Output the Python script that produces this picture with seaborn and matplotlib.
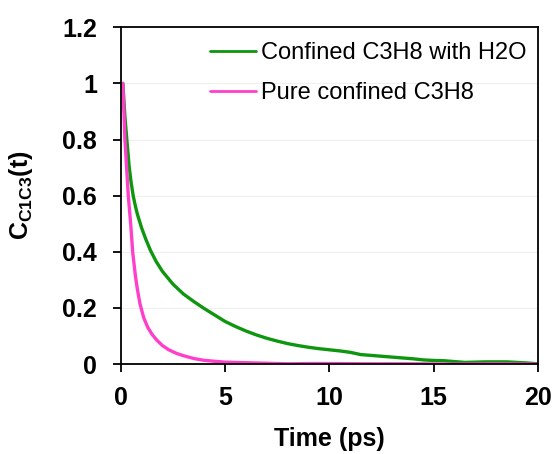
import matplotlib
matplotlib.use("Agg")
import matplotlib.pyplot as plt
import seaborn as sns
import pandas as pd

# ---- data ----
t_water = [0.1, 0.2, 0.29, 0.4, 0.5, 0.6, 0.7, 0.8, 1.0, 1.2, 1.43, 1.7, 2.0, 2.5, 3.0,
           3.5, 4.0, 4.5, 5.0, 5.5, 6.0, 6.5, 7.0, 7.5, 8.0, 8.5, 9.0, 9.5, 10.0,
           10.5, 11.0, 11.5, 12.0, 12.5, 13.0, 13.5, 14.0, 14.5, 15.0, 15.5, 16.0,
           16.5, 17.0, 17.5, 18.0, 18.5, 19.0, 19.5, 20.0]
c_water = [1.0, 0.88, 0.8, 0.705, 0.645, 0.598, 0.563, 0.533, 0.485, 0.445, 0.404, 0.365, 0.33,
           0.285, 0.25, 0.223, 0.198, 0.175, 0.152, 0.134, 0.118, 0.104, 0.092, 0.082, 0.073,
           0.066, 0.06, 0.055, 0.051, 0.047, 0.042, 0.034, 0.031, 0.028, 0.025, 0.022, 0.019,
           0.015, 0.013, 0.012, 0.009, 0.006, 0.007, 0.008, 0.008, 0.008, 0.006, 0.004, 0.001]

t_pure = [0.1, 0.15, 0.2, 0.28, 0.36, 0.48, 0.57, 0.7, 0.8, 0.92, 1.1, 1.3, 1.5, 1.72, 2.0,
          2.3, 2.68, 3.0, 3.5, 3.95, 4.5, 5.0, 6.0, 7.0, 8.0, 9.0, 10.0, 12.0, 14.0, 16.0, 18.0, 20.0]
c_pure = [1.0, 0.9, 0.8, 0.7, 0.6, 0.495, 0.4, 0.315, 0.265, 0.215, 0.165, 0.13, 0.106, 0.086,
          0.066, 0.051, 0.038, 0.03, 0.02, 0.014, 0.01, 0.007, 0.005, 0.003, 0.001, 0.002, 0.002,
          0.001, 0.001, 0.0, 0.001, 0.0]

series_names = ["Confined C3H8 with H2O", "Pure confined C3H8"]
series_colors = ["#0f960f", "#ff3fcc"]

x_ticks = [0, 5, 10, 15, 20]
y_ticks = [0, 0.2, 0.4, 0.6, 0.8, 1.0, 1.2]
y_tick_labels = ["0", "0.2", "0.4", "0.6", "0.8", "1", "1.2"]

df = pd.concat([
    pd.DataFrame({"t": t_water, "c": c_water, "series": series_names[0]}),
    pd.DataFrame({"t": t_pure, "c": c_pure, "series": series_names[1]}),
], ignore_index=True)

sns.set_style("white", {"xtick.bottom": True, "ytick.left": True,
                        "text.color": "black", "axes.labelcolor": "black",
                        "xtick.color": "black", "ytick.color": "black"})
plt.rcParams["font.family"] = ["Liberation Sans", "DejaVu Sans"]

fig = plt.figure(figsize=(5.54, 4.54), dpi=100)
ax = fig.add_axes([0.218, 0.198, 0.753, 0.742])

sns.lineplot(data=df, x="t", y="c", hue="series", hue_order=series_names,
             palette=series_colors, linewidth=2.4, ax=ax, sort=False, estimator=None)

ax.set_xlim(0, 20)
ax.set_ylim(0, 1.2)
ax.set_xticks(x_ticks)
ax.set_xticklabels([str(v) for v in x_ticks], fontsize=18, fontweight="bold", color="black")
ax.set_yticks(y_ticks)
ax.set_yticklabels(y_tick_labels, fontsize=18, fontweight="bold", color="black")
ax.tick_params(axis="y", left=True, direction="out", length=6, width=1.3, color="black", pad=11)
ax.tick_params(axis="x", bottom=True, direction="out", length=6, width=1.3, color="black", pad=10)
ax.yaxis.grid(True, color="#efefef", linewidth=0.8)
ax.set_axisbelow(True)

for s in ax.spines.values():
    s.set_color("black")
    s.set_linewidth(1.3)

ax.set_xlabel("Time (ps)", fontsize=18, fontweight="bold", labelpad=12, color="black")
ax.set_ylabel(r"C$_{\mathregular{C1C3}}$(t)", fontsize=18, fontweight="bold", labelpad=20,
              color="black")

leg = ax.legend(loc="upper left", bbox_to_anchor=(0.214, 0.956), frameon=False, fontsize=17,
                labelspacing=0.75, handlelength=1.95, handletextpad=0.2,
                borderaxespad=0.0, borderpad=0.0)
for txt in leg.get_texts():
    txt.set_color("black")
for h in leg.get_lines():
    h.set_linewidth(2.0)

fig.savefig("out.png", dpi=100)
